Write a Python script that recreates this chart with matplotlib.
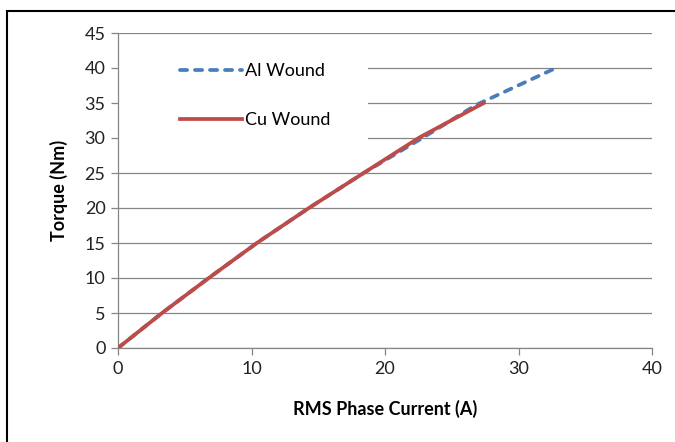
import matplotlib.pyplot as plt
from matplotlib.patches import Rectangle

# Torque vs RMS phase current
al_current = [0, 3.3, 6.8, 10.4, 14.3, 18.4, 22.8, 26.8, 32.8]
al_torque = [0, 5, 10, 15, 20, 25, 30, 34.7, 40]
cu_current = [0, 3.3, 6.8, 10.4, 14.3, 18.4, 22.6, 27.4]
cu_torque = [0, 5, 10, 15, 20, 25, 30.1, 35]

x_ticks = [0, 10, 20, 30, 40]
y_ticks = list(range(0, 50, 5))

plt.rcParams['font.family'] = ['Lato', 'DejaVu Sans']

fig = plt.figure(figsize=(6.75, 4.42), dpi=100)
ax = fig.add_axes([118 / 675, 1 - 348 / 442, 534 / 675, 315 / 442])

grey = '#868686'
ax.plot(al_current, al_torque, color='#4A7EBB', lw=2.7, ls=(0, (1.9, 2.1)),
        dash_capstyle='round', label='Al Wound', zorder=3)
ax.plot(cu_current, cu_torque, color='#BE4B48', lw=2.7, label='Cu Wound', zorder=4)

ax.set_xlim(0, 40)
ax.set_ylim(0, 45)
ax.set_xticks(x_ticks)
ax.set_yticks(y_ticks)
ax.yaxis.grid(True, color=grey, lw=0.9)
ax.set_axisbelow(True)

for s in ['top', 'right']:
    ax.spines[s].set_visible(False)
for s in ['left', 'bottom']:
    ax.spines[s].set_color(grey)
    ax.spines[s].set_linewidth(0.9)
ax.tick_params(direction='out', length=5, width=0.9, color=grey,
               labelsize=13, labelcolor='#222222', pad=4)

ax.set_xlabel('RMS Phase Current (A)', fontsize=13, fontweight='bold', labelpad=17)
ax.set_ylabel('Torque (Nm)', fontsize=13, fontweight='bold', labelpad=12)

# white box behind the legend hides the gridlines there
ax.add_patch(Rectangle((0.002, 0.61), 0.466, 0.35, transform=ax.transAxes,
                       facecolor='white', edgecolor='none', zorder=1.5))
leg = ax.legend(loc='upper left', bbox_to_anchor=(0.117, 0.905), frameon=False,
                fontsize=13, handlelength=3.4, handletextpad=0.15,
                labelspacing=1.85, borderpad=0, borderaxespad=0)

# outer chart border
fig.patches.append(Rectangle((7 / 675, -0.05), 1.1, 1 - 11 / 442 + 0.05,
                             transform=fig.transFigure, fill=False,
                             edgecolor='black', lw=1.5))

fig.savefig('out.png', dpi=100)
